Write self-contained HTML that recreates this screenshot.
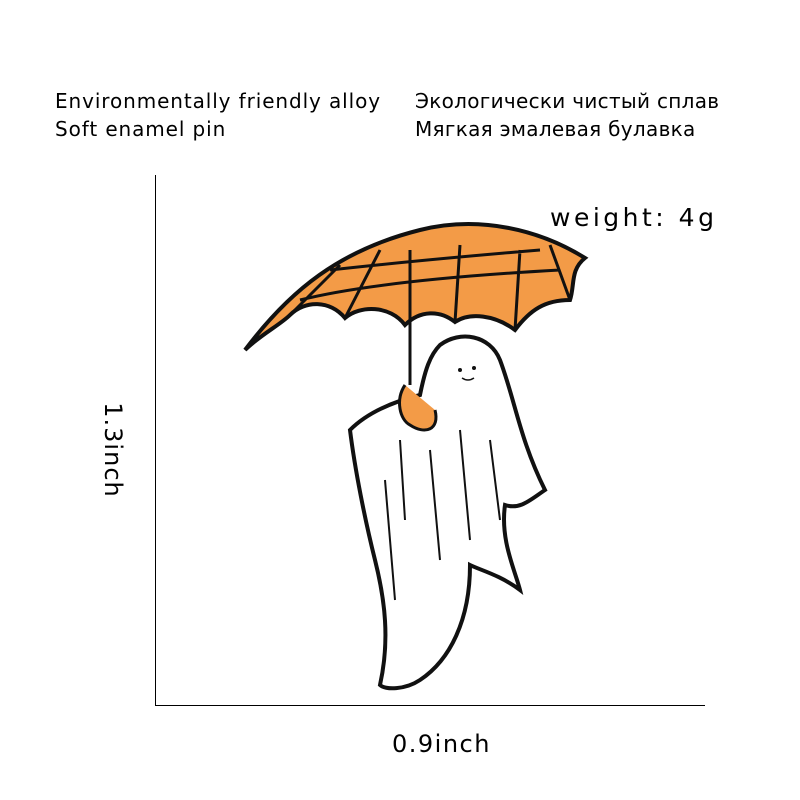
<!DOCTYPE html>
<html><head><meta charset="utf-8"><style>
html,body{margin:0;padding:0;background:#fff;}
.wrap{position:relative;width:800px;height:800px;overflow:hidden;font-family:"DejaVu Sans","Liberation Sans",sans-serif;color:#000;}
.t{position:absolute;font-size:20px;white-space:nowrap;}
</style></head><body><div class="wrap">
<div class="t" style="left:55px;top:89px;letter-spacing:0.9px;">Environmentally friendly alloy</div>
<div class="t" style="left:55px;top:117px;letter-spacing:0.9px;">Soft enamel pin</div>
<div class="t" style="left:415px;top:89px;font-size:20px;letter-spacing:0.3px;">Экологически чистый сплав</div>
<div class="t" style="left:415px;top:117px;font-size:20px;letter-spacing:0.3px;">Мягкая эмалевая булавка</div>
<div class="t" style="left:550px;top:203px;font-size:25px;letter-spacing:3.5px;">weight: 4g</div>
<div class="t" style="left:392px;top:730px;font-size:24px;letter-spacing:1.5px;">0.9inch</div>
<div class="t" style="left:53px;top:436px;font-size:24px;transform:rotate(90deg);transform-origin:center;width:120px;text-align:center;letter-spacing:1px;">1.3inch</div>
<svg width="800" height="800" style="position:absolute;left:0;top:0">
<line x1="155.5" y1="175" x2="155.5" y2="706" stroke="#000" stroke-width="1"/>
<line x1="155" y1="705.5" x2="705" y2="705.5" stroke="#000" stroke-width="1"/>
<path d="M440 345 C460 330 490 335 500 360 C515 400 520 440 545 490 C530 500 520 510 505 505 C500 540 515 570 520 590 C500 575 480 570 470 565 C470 620 450 660 420 680 C405 690 385 690 380 685 C390 640 385 600 375 560 C365 520 355 470 350 430 C370 410 400 400 420 395 C425 370 430 355 440 345 Z" fill="#fff" stroke="#111" stroke-width="4"/>
<path d="M400 440 L405 520 M430 450 L440 560 M460 430 L470 540 M385 480 L395 600 M490 440 L500 520" stroke="#111" stroke-width="2" fill="none"/>
<circle cx="460" cy="370" r="2" fill="#111"/><circle cx="474" cy="368" r="2" fill="#111"/>
<path d="M462 378 Q468 382 474 378" stroke="#111" stroke-width="1.5" fill="none"/>
<path d="M245 350 C290 290 340 250 420 230 C480 215 540 230 585 258 C570 270 575 285 570 300 C545 300 530 310 515 330 C495 315 470 312 455 322 C440 310 420 310 405 325 C390 305 360 305 345 318 C330 300 305 300 290 315 C280 325 260 335 245 350 Z" fill="#f39b47" stroke="#111" stroke-width="4"/>
<path d="M410 320 L410 250 M345 318 L380 250 M290 315 L340 265 M455 322 L460 245 M515 330 L520 250 M570 300 L550 245 M410 320 L410 385 M300 300 Q380 280 560 270 M330 270 Q420 260 540 250" stroke="#111" stroke-width="3" fill="none"/>
<path d="M405 385 C395 400 400 420 410 425 C425 435 440 430 435 410" fill="#f39b47" stroke="#111" stroke-width="3"/>
</svg>
</div></body></html>
